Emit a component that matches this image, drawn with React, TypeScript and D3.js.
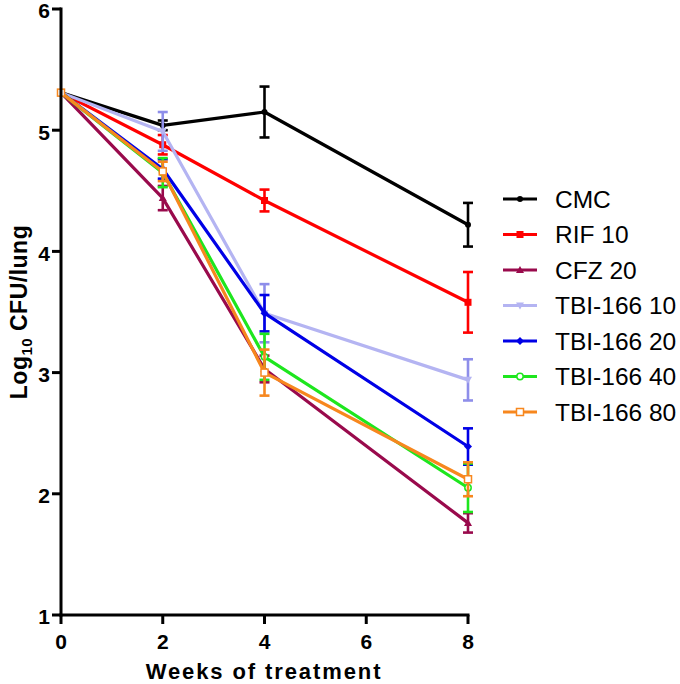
import React from "react";
import * as d3 from "d3";

const weeks = [0, 2, 4, 8];
const seriesNames = ["CMC", "RIF 10", "CFZ 20", "TBI-166 10", "TBI-166 20", "TBI-166 40", "TBI-166 80"];
const seriesColors = ["#000000", "#ff0000", "#990a4c", "#b4b4f2", "#0000e6", "#1ee61e", "#f7871e"];
const errColors = ["#000000", "#ff0000", "#990a4c", "#8e8eea", "#0000e6", "#1ee61e", "#f7871e"];
const markers = ["circle", "square", "triangle", "triangleDown", "diamond", "openCircle", "openSquare"];

const cmcMean = [5.31, 5.04, 5.15, 4.22];
const cmcErr = [0, 0.04, 0.21, 0.18];
const rifMean = [5.31, 4.88, 4.42, 3.58];
const rifErr = [0, 0.08, 0.09, 0.25];
const cfzMean = [5.31, 4.44, 3.03, 1.76];
const cfzErr = [0, 0.1, 0.11, 0.08];
const tbi10Mean = [5.31, 4.99, 3.49, 2.94];
const tbi10Err = [0, 0.16, 0.24, 0.17];
const tbi20Mean = [5.31, 4.68, 3.49, 2.39];
const tbi20Err = [0, 0.08, 0.15, 0.15];
const tbi40Mean = [5.31, 4.65, 3.13, 2.05];
const tbi40Err = [0, 0.12, 0.19, 0.2];
const tbi80Mean = [5.31, 4.66, 3.0, 2.12];
const tbi80Err = [0, 0.08, 0.19, 0.14];

const means = [cmcMean, rifMean, cfzMean, tbi10Mean, tbi20Mean, tbi40Mean, tbi80Mean];
const errs = [cmcErr, rifErr, cfzErr, tbi10Err, tbi20Err, tbi40Err, tbi80Err];

const xTicks = [0, 2, 4, 6, 8];
const yTicks = [1, 2, 3, 4, 5, 6];

const x = d3.scaleLinear().domain([0, 8]).range([61, 468]);
const y = d3.scaleLinear().domain([1, 6]).range([615, 9]);

function Marker({ kind, cx, cy, color }: { kind: string; cx: number; cy: number; color: string }) {
  const s = 3.5;
  switch (kind) {
    case "circle":
      return <circle cx={cx} cy={cy} r={3} fill={color} />;
    case "square":
      return <rect x={cx - s} y={cy - s} width={2 * s} height={2 * s} fill={color} />;
    case "triangle":
      return <path d={`M${cx},${cy - 4}L${cx + 4},${cy + 3}L${cx - 4},${cy + 3}Z`} fill={color} />;
    case "triangleDown":
      return <path d={`M${cx},${cy + 4}L${cx + 4},${cy - 3}L${cx - 4},${cy - 3}Z`} fill={color} />;
    case "diamond":
      return <path d={`M${cx},${cy - 4}L${cx + 4},${cy}L${cx},${cy + 4}L${cx - 4},${cy}Z`} fill={color} />;
    case "openCircle":
      return <circle cx={cx} cy={cy} r={3.2} fill="white" stroke={color} strokeWidth={1.5} />;
    case "openSquare":
      return <rect x={cx - s} y={cy - s} width={2 * s} height={2 * s} fill="white" stroke={color} strokeWidth={1.5} />;
    default:
      return null;
  }
}

export default function App() {
  const line = d3
    .line<number>()
    .x((_, i) => x(weeks[i]))
    .y((d) => y(d));
  const font = "Arial, 'Liberation Sans', Helvetica, sans-serif";
  const legendX1 = 503;
  const legendX2 = 537;
  const legendY0 = 199;
  const legendDy = 35.5;

  return (
    <svg width={680} height={684} style={{ position: "absolute", left: 0, top: 0, background: "white" }} fontFamily={font}>
      {/* series */}
      {means.map((m, si) => (
        <g key={si}>
          <path d={line(m) || ""} fill="none" stroke={seriesColors[si]} strokeWidth={3.2} strokeLinejoin="round" />
          {m.map((v, i) =>
            errs[si][i] > 0 ? (
              <g key={i} stroke={errColors[si]} strokeWidth={2.6}>
                <line x1={x(weeks[i])} x2={x(weeks[i])} y1={y(v - errs[si][i])} y2={y(v + errs[si][i])} />
                <line x1={x(weeks[i]) - 5} x2={x(weeks[i]) + 5} y1={y(v + errs[si][i])} y2={y(v + errs[si][i])} />
                <line x1={x(weeks[i]) - 5} x2={x(weeks[i]) + 5} y1={y(v - errs[si][i])} y2={y(v - errs[si][i])} />
              </g>
            ) : null
          )}
          {m.map((v, i) => (
            <Marker key={"m" + i} kind={markers[si]} cx={x(weeks[i])} cy={y(v)} color={seriesColors[si]} />
          ))}
        </g>
      ))}

      {/* axes */}
      <g stroke="black" strokeWidth={3}>
        <line x1={x(0)} x2={x(0)} y1={y(6) - 1.5} y2={y(1) + 1.5} />
        <line x1={x(0) - 1.5} x2={x(8) + 1.5} y1={y(1)} y2={y(1)} />
        {yTicks.map((t) => (
          <line key={"yt" + t} x1={x(0) - 9} x2={x(0)} y1={y(t)} y2={y(t)} />
        ))}
        {xTicks.map((t) => (
          <line key={"xt" + t} x1={x(t)} x2={x(t)} y1={y(1)} y2={y(1) + 9} />
        ))}
      </g>
      {yTicks.map((t) => (
        <text key={"yl" + t} x={x(0) - 11} y={y(t) + 2} dy="0.35em" textAnchor="end" fontSize={21} fontWeight="bold">
          {t}
        </text>
      ))}
      {xTicks.map((t) => (
        <text key={"xl" + t} x={x(t)} y={y(1) + 34} textAnchor="middle" fontSize={21} fontWeight="bold">
          {t}
        </text>
      ))}
      <text x={264} y={679} textAnchor="middle" fontSize={22} fontWeight="bold" letterSpacing={1.9}>
        Weeks of treatment
      </text>
      <text transform={`translate(27, ${312}) rotate(-90)`} textAnchor="middle" fontSize={23} fontWeight="bold" letterSpacing={0.5}>
        Log
        <tspan fontSize={15} dy={5}>10</tspan>
        <tspan dy={-5}> CFU/lung</tspan>
      </text>

      {/* legend */}
      {seriesNames.map((n, i) => {
        const ly = legendY0 + i * legendDy;
        return (
          <g key={"lg" + i}>
            <line x1={legendX1} x2={legendX2} y1={ly} y2={ly} stroke={seriesColors[i]} strokeWidth={3} />
            <Marker kind={markers[i]} cx={(legendX1 + legendX2) / 2} cy={ly} color={seriesColors[i]} />
            <text x={555} y={ly} dy="0.35em" fontSize={24.5}>
              {n}
            </text>
          </g>
        );
      })}
    </svg>
  );
}
